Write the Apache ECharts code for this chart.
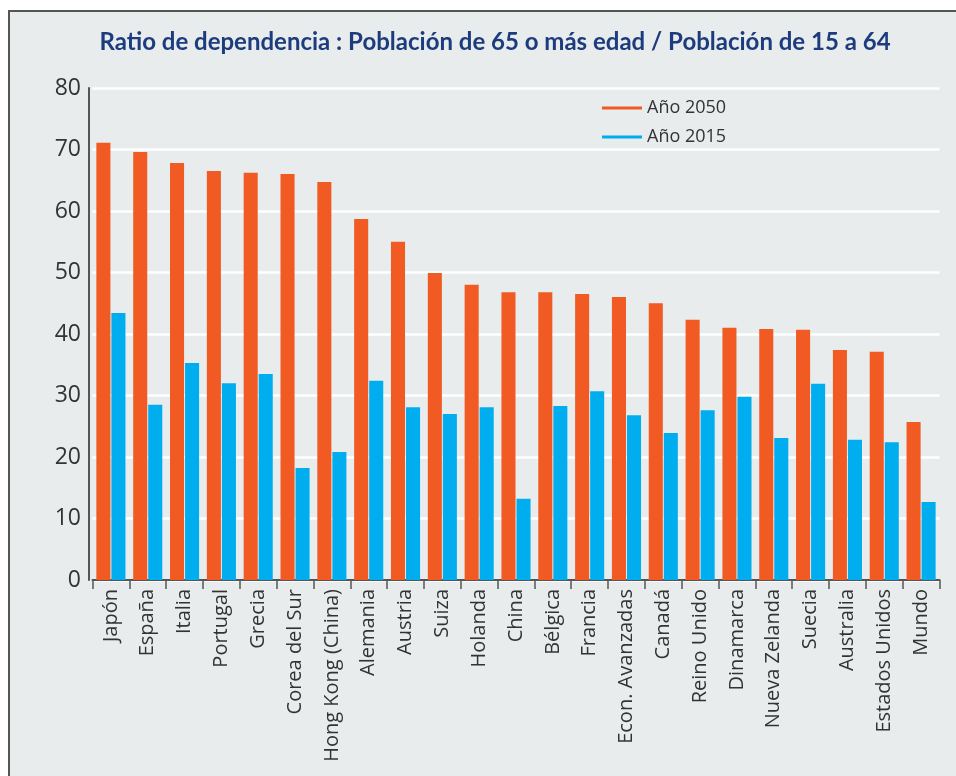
<!DOCTYPE html>
<html>
<head>
<meta charset="utf-8">
<script src="https://cdn.jsdelivr.net/npm/echarts@6/dist/echarts.min.js"></script>
<style>
html,body{margin:0;padding:0;background:#fff;width:956px;height:776px;overflow:hidden;}
#frame{position:absolute;left:8px;top:10px;width:948px;height:766px;background:#E8ECED;border-left:2px solid #555;border-top:2px solid #555;box-sizing:border-box;}
#chart{position:absolute;left:0;top:0;width:956px;height:776px;}
</style>
</head>
<body>
<div id="frame"></div>
<div id="chart"></div>
<script>
const titleText = "Ratio de dependencia : Población de 65 o más edad / Población de 15 a 64";
const categories = ["Japón","España","Italia","Portugal","Grecia","Corea del Sur","Hong Kong (China)","Alemania","Austria","Suiza","Holanda","China","Bélgica","Francia","Econ. Avanzadas","Canadá","Reino Unido","Dinamarca","Nueva Zelanda","Suecia","Australia","Estados Unidos","Mundo"];
const seriesNames = ["Año 2050","Año 2015"];
const values2050 = [71.1,69.6,67.8,66.5,66.2,66.0,64.7,58.7,55.0,49.9,48.0,46.8,46.8,46.5,46.0,45.0,42.3,41.0,40.8,40.7,37.4,37.1,25.7];
const values2015 = [43.4,28.5,35.3,32.0,33.5,18.2,20.8,32.4,28.1,27.0,28.1,13.2,28.3,30.7,26.8,23.9,27.6,29.8,23.1,31.9,22.8,22.4,12.7];
const yTicks = {min:0, max:80, interval:10};

const chart = echarts.init(document.getElementById('chart'), null, {renderer:'canvas'});
chart.setOption({
  backgroundColor:'transparent',
  animation:false,
  title:{
    text:titleText,
    left:490, top:25, textAlign:'center',
    textStyle:{fontFamily:'Lato', fontWeight:'bold', fontSize:24, color:'#1D3C7E'}
  },
  legend:{
    orient:'vertical',
    left:597, top:94,
    itemWidth:40, itemHeight:3, itemGap:11,
    icon:'rect',
    textStyle:{fontFamily:'Open Sans', fontSize:18, color:'#333'},
    data:seriesNames
  },
  grid:{left:92.5, right:16.5, top:88, bottom:196, containLabel:false},
  xAxis:{
    type:'category',
    data:categories,
    axisLine:{show:true, lineStyle:{color:'#555', width:2}},
    axisTick:{show:true, alignWithLabel:false, length:9, lineStyle:{color:'#555', width:1.5}},
    axisLabel:{rotate:90, interval:0, margin:9, fontFamily:'Open Sans', fontSize:20, color:'#333'},
    splitLine:{show:false}
  },
  yAxis:{
    type:'value',
    offset:3.5,
    min:yTicks.min, max:yTicks.max, interval:yTicks.interval,
    axisLine:{show:true, lineStyle:{color:'#555', width:2}},
    axisTick:{show:false},
    axisLabel:{fontFamily:'Open Sans', fontSize:23, color:'#333', margin:8},
    splitLine:{show:true, lineStyle:{color:'#ffffff', width:2.5}}
  },
  series:[
    {name:seriesNames[0], type:'bar', data:values2050, itemStyle:{color:'#F15A22'}, barGap:'7%', barCategoryGap:'21%'},
    {name:seriesNames[1], type:'bar', data:values2015, itemStyle:{color:'#00AEEF'}, barGap:'7%', barCategoryGap:'21%'}
  ]
});
</script>
</body>
</html>
